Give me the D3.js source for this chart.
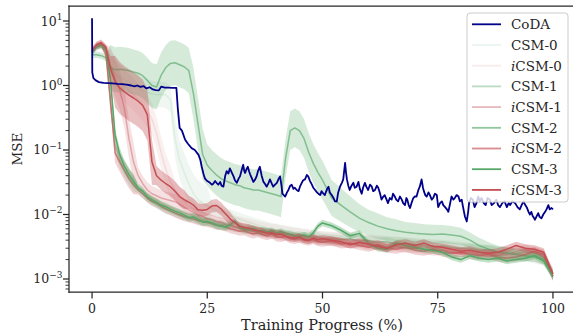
<!DOCTYPE html>
<html>
<head>
<meta charset="utf-8">
<script src="https://d3js.org/d3.v7.min.js"></script>
<style>
  html, body { margin: 0; padding: 0; background: #fff; }
  svg { display: block; }
</style>
</head>
<body>
<svg id="chart" width="573" height="334"></svg>
<script>
// ─── Data ──────────────────────────────────────────────────────────
// training progress grid (%) shared by the CSM / iCSM runs
const progress = [0,1,2,3,4,5,6,7,8,9,
  10,11,12,13,14,15,16,17,18,19,
  20,21,22,23,24,25,26,27,28,29,
  30,31,32,33,34,35,36,37,38,39,
  40,41,42,43,44,45,46,47,48,49,50,
  52,54,56,58,60,62,64,66,68,70,
  72,74,76,78,80,82,84,86,88,90,
  92,94,96,98,100];

const csm0 = [3.2,3.9,4.1,3.8,1.9,1.55,1.35,1.22,1.12,1.02,
  0.92,0.84,0.78,0.74,0.72,0.73,0.71,0.60,0.15,0.07,
  0.045,0.030,0.021,0.017,0.015,0.0135,0.0125,0.0117,0.011,0.0102,
  0.0096,0.0090,0.0085,0.0080,0.0076,0.0072,0.0068,0.0065,0.0062,0.0059,
  0.0057,0.0055,0.0053,0.0052,0.0050,0.0049,0.0047,0.0046,0.0045,0.0044,0.0043,
  0.0042,0.0041,0.0040,0.0039,0.0038,0.0037,0.0036,0.0036,0.0035,0.0034,
  0.0033,0.0033,0.0032,0.0031,0.0030,0.0029,0.0028,0.0027,0.0026,0.0025,
  0.0024,0.0023,0.0022,0.0020,0.0012];
const icsm0 = [3.3,4.0,4.2,3.7,2.0,1.5,1.2,1.0,0.85,0.72,
  0.60,0.50,0.40,0.30,0.18,0.09,0.05,0.032,0.024,0.019,
  0.016,0.014,0.0125,0.0115,0.0108,0.0102,0.0097,0.0092,0.0088,0.0084,
  0.0080,0.0077,0.0074,0.0071,0.0068,0.0066,0.0063,0.0061,0.0059,0.0057,
  0.0056,0.0054,0.0053,0.0051,0.0050,0.0049,0.0048,0.0047,0.0046,0.0045,0.0044,
  0.0043,0.0042,0.0041,0.0040,0.0039,0.0038,0.0037,0.0036,0.0035,0.0034,
  0.0033,0.0032,0.0031,0.0030,0.0029,0.0028,0.0027,0.0026,0.0025,0.0025,
  0.0024,0.0024,0.0023,0.0021,0.0012];
const csm1 = [3.4,4.0,4.2,3.5,0.5,0.12,0.07,0.05,0.038,0.030,
  0.025,0.021,0.018,0.016,0.0145,0.0132,0.0122,0.0113,0.0108,0.0100,
  0.0095,0.0093,0.0087,0.0083,0.0081,0.0077,0.0075,0.0071,0.0070,0.0067,
  0.0066,0.0063,0.0062,0.0059,0.0060,0.0056,0.0055,0.0053,0.0054,0.0051,
  0.0050,0.0051,0.0048,0.0049,0.0046,0.0047,0.0045,0.0046,0.0044,0.0045,0.0043,
  0.0042,0.0041,0.0042,0.0039,0.0040,0.0037,0.0038,0.0035,0.0036,0.0034,
  0.0034,0.0032,0.0033,0.0031,0.0030,0.0030,0.0028,0.0029,0.0027,0.0026,
  0.0025,0.0026,0.0025,0.0022,0.0011];
const icsm1 = [3.5,4.2,4.4,3.9,2.0,1.3,0.85,0.45,0.15,0.065,
  0.040,0.030,0.024,0.021,0.0195,0.018,0.0172,0.0165,0.0158,0.0145,
  0.013,0.0118,0.0107,0.0098,0.0094,0.0086,0.0084,0.0078,0.0076,0.0070,
  0.0068,0.0064,0.0063,0.0059,0.0058,0.0055,0.0054,0.0052,0.0051,0.0049,
  0.0049,0.0047,0.0046,0.0044,0.0045,0.0042,0.0043,0.0041,0.0042,0.0039,0.0040,
  0.0038,0.0037,0.0035,0.0036,0.0033,0.0034,0.0031,0.0032,0.0030,0.0030,
  0.0029,0.0027,0.0028,0.0026,0.0025,0.0026,0.0024,0.0025,0.0023,0.0024,
  0.0027,0.0029,0.0026,0.0022,0.0011];
const csm2 = [3.0,3.0,2.9,2.7,1.9,1.75,1.78,1.75,1.7,1.62,
  1.55,1.42,1.2,1.0,0.95,1.45,1.9,2.2,2.25,2.1,
  1.95,1.7,0.75,0.25,0.085,0.058,0.048,0.041,0.036,0.033,
  0.031,0.029,0.028,0.026,0.025,0.024,0.024,0.023,0.022,0.021,
  0.020,0.019,0.075,0.20,0.22,0.20,0.15,0.092,0.062,0.045,0.034,
  0.018,0.014,0.011,0.0088,0.0075,0.0066,0.0060,0.0056,0.0053,0.0051,
  0.0050,0.0049,0.0050,0.0048,0.0046,0.0040,0.0033,0.0029,0.0026,0.0025,
  0.0024,0.0023,0.0022,0.0020,0.0012];
const icsm2 = [3.4,4.1,4.3,3.0,0.6,0.09,0.065,0.048,0.036,0.029,
  0.024,0.021,0.018,0.016,0.015,0.0135,0.0122,0.0115,0.0105,0.0098,
  0.0092,0.0088,0.0085,0.0080,0.0077,0.0075,0.0072,0.0068,0.0067,0.0064,
  0.0060,0.0058,0.0055,0.0056,0.0052,0.0050,0.0052,0.0049,0.0047,0.0050,
  0.0045,0.0044,0.0046,0.0042,0.0041,0.0043,0.0040,0.0039,0.0041,0.0038,0.0037,
  0.0039,0.0035,0.0036,0.0033,0.0031,0.0034,0.0030,0.0029,0.0031,0.0028,
  0.0027,0.0029,0.0026,0.0025,0.0026,0.0024,0.0023,0.0024,0.0022,0.0021,
  0.0022,0.0024,0.0027,0.0024,0.0011];
const csm3 = [3.3,4.0,4.2,3.6,1.2,0.17,0.085,0.056,0.042,0.033,
  0.026,0.023,0.019,0.017,0.0155,0.014,0.0132,0.0121,0.0113,0.0106,
  0.0098,0.0089,0.0092,0.0084,0.0076,0.0078,0.0074,0.0068,0.0066,0.0064,
  0.0070,0.0079,0.0064,0.0059,0.0058,0.0061,0.0055,0.0057,0.0054,0.0056,
  0.0052,0.0054,0.0051,0.0049,0.0047,0.0046,0.0048,0.0045,0.0052,0.0066,0.0074,
  0.0067,0.0057,0.0047,0.0051,0.0036,0.0030,0.0029,0.0036,0.0033,0.0031,
  0.0029,0.0028,0.0026,0.0022,0.0020,0.0023,0.0021,0.0020,0.0021,0.0019,
  0.0020,0.0021,0.0023,0.0019,0.0011];
const icsm3 = [3.5,4.3,4.6,3.9,1.8,1.15,0.92,0.8,0.71,0.64,
  0.57,0.49,0.35,0.065,0.04,0.034,0.030,0.027,0.023,0.019,
  0.017,0.0155,0.014,0.0118,0.0116,0.012,0.0135,0.0138,0.0122,0.0102,
  0.0085,0.0075,0.0066,0.0063,0.0062,0.0058,0.0056,0.0054,0.0051,0.0052,
  0.0049,0.0050,0.0046,0.0044,0.0043,0.0045,0.0041,0.0040,0.0043,0.0041,0.0042,
  0.0040,0.0038,0.0034,0.0037,0.0035,0.0032,0.0030,0.0034,0.0036,0.0033,
  0.0036,0.0032,0.0031,0.0029,0.0027,0.0028,0.0026,0.0025,0.0026,0.0029,
  0.0033,0.0030,0.0029,0.0026,0.0012];

// half-width of the shaded band, in decades
const bandCsm0 = [.05,.05,.05,.05,.2,.2,.2,.2,.2,.2,
  .2,.2,.2,.2,.2,.2,.2,.2,.3,.3,
  .3,.3,.3,.3,.3,.3,.1,.1,.1,.1,
  .1,.1,.1,.1,.1,.1,.1,.1,.1,.1,
  .1,.1,.1,.1,.1,.1,.1,.1,.1,.1,.1,
  .1,.1,.1,.1,.1,.1,.1,.1,.1,.1,
  .1,.1,.1,.1,.1,.1,.1,.1,.1,.1,
  .1,.1,.1,.1,.1];
const bandIcsm0 = [.05,.05,.05,.05,.25,.25,.25,.25,.25,.25,
  .25,.25,.25,.25,.25,.25,.25,.25,.15,.15,
  .15,.15,.15,.15,.15,.15,.15,.15,.15,.15,
  .15,.1,.1,.1,.1,.1,.1,.1,.1,.1,
  .1,.1,.1,.1,.1,.1,.1,.1,.1,.1,.1,
  .1,.1,.1,.1,.1,.1,.1,.1,.1,.1,
  .1,.1,.1,.1,.1,.1,.1,.1,.1,.1,
  .1,.1,.1,.1,.1];
const bandCsm1 = [.05,.05,.05,.05,.12,.12,.12,.12,.12,.12,
  .07,.07,.07,.07,.07,.07,.07,.07,.07,.07,
  .07,.07,.07,.07,.07,.07,.07,.07,.07,.07,
  .07,.07,.07,.07,.07,.07,.07,.07,.07,.07,
  .07,.07,.07,.07,.07,.07,.07,.07,.07,.07,.07,
  .07,.07,.07,.07,.07,.07,.07,.07,.07,.07,
  .07,.07,.07,.07,.07,.07,.07,.07,.07,.07,
  .07,.07,.07,.07,.07];
const bandIcsm1 = [.05,.05,.05,.05,.3,.3,.3,.3,.3,.3,
  .12,.12,.12,.12,.12,.12,.12,.12,.12,.12,
  .12,.07,.07,.07,.07,.07,.07,.07,.07,.07,
  .07,.07,.07,.07,.07,.07,.07,.07,.07,.07,
  .07,.07,.07,.07,.07,.07,.07,.07,.07,.07,.07,
  .07,.07,.07,.07,.07,.07,.07,.07,.07,.07,
  .07,.07,.07,.07,.07,.07,.07,.07,.07,.07,
  .07,.07,.07,.07,.07];
const bandCsm2 = [.05,.05,.05,.05,.35,.35,.35,.35,.35,.35,
  .35,.35,.35,.35,.35,.35,.35,.35,.35,.35,
  .35,.35,.4,.4,.4,.32,.32,.32,.32,.32,
  .32,.32,.32,.32,.32,.32,.32,.32,.32,.32,
  .32,.32,.3,.3,.3,.3,.3,.3,.3,.3,.3,
  .28,.26,.24,.22,.2,.2,.18,.18,.16,.16,
  .15,.15,.14,.14,.13,.12,.12,.11,.1,.1,
  .08,.08,.08,.08,.06];
const bandIcsm2 = [.05,.05,.05,.05,.15,.15,.15,.15,.15,.15,
  .07,.07,.07,.07,.07,.07,.07,.07,.07,.07,
  .07,.07,.07,.07,.07,.07,.07,.07,.07,.07,
  .07,.07,.07,.07,.07,.07,.07,.07,.07,.07,
  .07,.07,.07,.07,.07,.07,.07,.07,.07,.07,.07,
  .07,.07,.07,.07,.07,.07,.07,.07,.07,.07,
  .07,.07,.07,.07,.07,.07,.07,.07,.07,.07,
  .07,.07,.07,.07,.07];
const bandCsm3 = [.04,.04,.04,.04,.1,.1,.1,.1,.1,.1,
  .06,.06,.06,.06,.06,.06,.06,.06,.06,.06,
  .06,.06,.06,.06,.06,.06,.06,.06,.06,.06,
  .05,.05,.05,.05,.05,.05,.05,.05,.05,.05,
  .05,.05,.05,.05,.05,.05,.05,.05,.05,.05,.05,
  .05,.05,.05,.05,.05,.05,.05,.05,.05,.05,
  .05,.05,.05,.05,.05,.05,.05,.05,.05,.05,
  .05,.05,.05,.05,.05];
const bandIcsm3 = [.05,.05,.05,.05,.2,.4,.4,.4,.4,.4,
  .4,.4,.4,.35,.15,.15,.15,.15,.15,.15,
  .15,.1,.1,.1,.1,.1,.1,.1,.1,.1,
  .1,.06,.06,.06,.06,.06,.06,.06,.06,.06,
  .06,.06,.06,.06,.06,.06,.06,.06,.06,.06,.06,
  .06,.06,.06,.06,.06,.06,.06,.06,.06,.06,
  .06,.06,.06,.06,.06,.06,.06,.06,.06,.06,
  .06,.06,.06,.06,.06];

// CoDA run (single, noisy)
const codaProgress = [0,0.05,0.3,0.8,1.5,2.5,3.5,4.5,5.5,6.5,7.5,8.5,9.2,9.8,10.5,11.2,11.8,12.5,13.2,13.8,
  14.5,15.0,15.8,16.5,17.5,18.3,18.6,19.0,19.5,20.2,20.8,21.6,22.3,23.1,23.5,23.8,24.2,24.5,25.0,25.6,
  26.0,26.3,26.7,27.0,27.4,27.8,28.1,28.5,28.9,29.2,29.6,29.9,30.3,30.7,31.0,31.4,31.8,32.1,32.5,32.8,
  33.0,33.2,33.5,33.8,34.1,34.3,34.7,35.0,35.4,35.7,36.0,36.4,36.8,37.2,37.5,37.9,38.3,38.6,39.0,39.3,
  39.7,40.1,40.5,40.8,41.1,41.3,41.6,41.9,42.3,42.6,43.0,43.3,43.7,44.0,44.4,44.8,45.1,45.5,45.8,46.2,
  46.6,46.9,47.3,47.7,48.0,48.4,48.8,49.1,49.5,49.8,50.2,50.5,50.9,51.3,51.6,52.0,52.4,52.7,53.1,53.4,
  53.8,54.2,54.5,54.9,55.1,55.3,55.6,55.9,56.3,56.7,57.0,57.4,57.8,58.1,58.5,58.8,59.2,59.5,59.9,60.3,
  60.7,61.0,61.4,61.8,62.1,62.5,62.8,63.2,63.5,63.9,64.2,64.6,65.0,65.3,65.7,66.0,66.4,66.8,67.2,67.5,
  67.9,68.2,68.4,68.7,69.0,69.3,69.7,70.0,70.4,70.8,71.1,71.5,71.8,72.0,72.3,72.6,73.0,73.3,73.7,74.0,
  74.4,74.8,75.1,75.5,75.9,76.2,76.6,77.0,77.3,77.7,78.0,78.4,78.7,79.1,79.5,79.8,80.2,80.5,80.9,81.1,
  81.3,81.6,81.8,82.2,82.6,83.0,83.4,83.8,84.1,84.5,85.0,85.4,85.8,86.3,86.7,87.2,87.7,88.1,88.5,89.0,
  89.5,90.0,90.4,90.7,91.2,91.8,92.3,92.8,93.2,93.6,94.0,94.3,94.7,95.0,95.3,95.6,95.9,96.1,96.5,96.8,
  97.1,97.5,97.9,98.3,98.6,99.0,99.3,99.7,100.0];
const codaMse = [11,1.6,1.3,1.2,1.13,1.1,1.09,1.08,1.06,1.05,1.03,1.0,0.97,1.0,0.95,0.98,0.9,0.94,0.87,0.85,
  0.84,0.96,0.93,0.93,0.92,0.92,0.45,0.22,0.2,0.144,0.125,0.107,0.1,0.084,0.07,0.055,0.042,0.036,0.033,0.031,
  0.029,0.03,0.033,0.031,0.029,0.032,0.028,0.027,0.04,0.047,0.043,0.052,0.045,0.039,0.034,0.031,0.036,0.039,0.05,0.059,
  0.048,0.044,0.05,0.055,0.046,0.042,0.036,0.032,0.035,0.039,0.047,0.055,0.04,0.032,0.03,0.027,0.031,0.035,0.03,0.027,
  0.029,0.031,0.036,0.039,0.028,0.021,0.02,0.019,0.022,0.024,0.028,0.029,0.025,0.026,0.024,0.023,0.027,0.031,0.034,0.035,
  0.041,0.039,0.033,0.029,0.026,0.024,0.022,0.021,0.02,0.023,0.021,0.02,0.024,0.027,0.022,0.02,0.018,0.016,0.016,0.022,
  0.027,0.031,0.035,0.063,0.045,0.035,0.028,0.024,0.028,0.031,0.026,0.027,0.032,0.025,0.021,0.026,0.031,0.027,0.024,0.029,
  0.027,0.023,0.024,0.028,0.026,0.021,0.017,0.019,0.02,0.017,0.015,0.018,0.017,0.021,0.019,0.017,0.016,0.019,0.017,0.015,
  0.014,0.018,0.017,0.014,0.0126,0.015,0.018,0.019,0.019,0.024,0.027,0.035,0.026,0.023,0.02,0.019,0.022,0.02,0.017,0.018,
  0.021,0.02,0.013,0.015,0.016,0.014,0.013,0.012,0.011,0.015,0.019,0.017,0.018,0.02,0.019,0.016,0.017,0.013,0.0093,0.0085,
  0.0078,0.011,0.015,0.018,0.017,0.013,0.015,0.019,0.016,0.018,0.015,0.014,0.018,0.017,0.014,0.015,0.017,0.014,0.013,0.015,
  0.016,0.013,0.015,0.014,0.016,0.015,0.013,0.012,0.014,0.016,0.014,0.013,0.011,0.01,0.011,0.0095,0.0088,0.0083,0.0095,0.0105,
  0.0092,0.0087,0.01,0.011,0.012,0.014,0.012,0.0126,0.012];

const xTicks = [0, 25, 50, 75, 100];
const yDecades = [-3, -2, -1, 0, 1];

const GREEN = "#55a868", RED = "#c44e52", NAVY = "#00008b";
const series = [
  { name: "CSM-0", italic: false, values: csm0, band: bandCsm0, color: GREEN, alpha: 0.12 },
  { name: "CSM-0", italic: true,  values: icsm0, band: bandIcsm0, color: RED, alpha: 0.12 },
  { name: "CSM-1", italic: false, values: csm1, band: bandCsm1, color: GREEN, alpha: 0.4 },
  { name: "CSM-1", italic: true,  values: icsm1, band: bandIcsm1, color: RED, alpha: 0.4 },
  { name: "CSM-2", italic: false, values: csm2, band: bandCsm2, color: GREEN, alpha: 0.65 },
  { name: "CSM-2", italic: true,  values: icsm2, band: bandIcsm2, color: RED, alpha: 0.65 },
  { name: "CSM-3", italic: false, values: csm3, band: bandCsm3, color: GREEN, alpha: 1 },
  { name: "CSM-3", italic: true,  values: icsm3, band: bandIcsm3, color: RED, alpha: 1 },
];

// ─── Layout ────────────────────────────────────────────────────────
const W = 573, H = 334;
const plotLeft = 69, plotTop = 6, plotBottom = 292, plotRight = 576;
const FONT = "'DejaVu Serif', serif";
const INK = "#262626";

const svg = d3.select("#chart");
svg.append("rect").attr("width", W).attr("height", H).attr("fill", "#fff");

const x = d3.scaleLinear().domain([-5, 105]).range([plotLeft, plotRight]);
const y = d3.scaleLog().domain([Math.pow(10, -3.2016), Math.pow(10, 1.2326)]).range([plotBottom, plotTop]);

svg.append("defs").append("clipPath").attr("id", "plotClip")
  .append("rect").attr("x", plotLeft).attr("y", plotTop)
  .attr("width", plotRight - plotLeft).attr("height", plotBottom - plotTop);

const plot = svg.append("g").attr("clip-path", "url(#plotClip)");

// ─── Series: band + mean line ──────────────────────────────────────
for (const s of series) {
  const pts = progress.map((t, i) => ({ t, v: s.values[i], b: s.band[i] }));
  const area = d3.area()
    .x(d => x(d.t))
    .y0(d => y(d.v * Math.pow(10, -d.b)))
    .y1(d => y(d.v * Math.pow(10, d.b)));
  const line = d3.line().x(d => x(d.t)).y(d => y(d.v));

  plot.append("path").datum(pts)
    .attr("d", area)
    .attr("fill", s.color)
    .attr("fill-opacity", 0.3 * s.alpha + 0.05)
    .attr("stroke", "none");
  plot.append("path").datum(pts)
    .attr("d", line)
    .attr("fill", "none")
    .attr("stroke", s.color)
    .attr("stroke-opacity", s.alpha)
    .attr("stroke-width", 1.5)
    .attr("stroke-linejoin", "round");
}

// CoDA on top
const codaPts = codaProgress.map((t, i) => ({ t, v: codaMse[i] }));
plot.append("path").datum(codaPts)
  .attr("d", d3.line().x(d => x(d.t)).y(d => y(d.v)))
  .attr("fill", "none")
  .attr("stroke", NAVY)
  .attr("stroke-width", 1.8)
  .attr("stroke-linejoin", "round");

// ─── Axes ──────────────────────────────────────────────────────────
const axes = svg.append("g");
axes.append("line").attr("x1", plotLeft).attr("x2", plotLeft).attr("y1", plotTop).attr("y2", plotBottom)
  .attr("stroke", INK).attr("stroke-width", 1.25).attr("stroke-linecap", "square");
axes.append("line").attr("x1", plotLeft).attr("x2", W).attr("y1", plotBottom).attr("y2", plotBottom)
  .attr("stroke", INK).attr("stroke-width", 1.25).attr("stroke-linecap", "square");
axes.append("line").attr("x1", plotLeft).attr("x2", W).attr("y1", plotTop).attr("y2", plotTop)
  .attr("stroke", INK).attr("stroke-width", 1.25).attr("stroke-linecap", "square");

// x ticks
for (const t of xTicks) {
  axes.append("line").attr("x1", x(t)).attr("x2", x(t)).attr("y1", plotBottom).attr("y2", plotBottom + 6.5)
    .attr("stroke", INK).attr("stroke-width", 1.25);
  axes.append("text").attr("x", x(t)).attr("y", plotBottom + 21)
    .attr("text-anchor", "middle").attr("font-family", FONT).attr("font-size", 12.5)
    .attr("fill", INK).text(t);
}

// y ticks (log): major + minor
const [yLo, yHi] = y.domain();
for (let e = -4; e <= 1; e++) {
  for (let k = 2; k <= 9; k++) {
    const v = k * Math.pow(10, e);
    if (v < yLo || v > yHi) continue;
    axes.append("line").attr("x1", plotLeft - 3.5).attr("x2", plotLeft).attr("y1", y(v)).attr("y2", y(v))
      .attr("stroke", INK).attr("stroke-width", 0.9);
  }
}
for (const e of yDecades) {
  const v = Math.pow(10, e);
  axes.append("line").attr("x1", plotLeft - 6).attr("x2", plotLeft).attr("y1", y(v)).attr("y2", y(v))
    .attr("stroke", INK).attr("stroke-width", 1.25);
  const label = axes.append("text").attr("x", plotLeft - 6.5).attr("y", y(v) + 4.5)
    .attr("text-anchor", "end").attr("font-family", FONT).attr("font-size", 12.5).attr("fill", INK);
  label.append("tspan").text("10");
  label.append("tspan").attr("dy", -5.5).attr("font-size", 9).text(String(e).replace("-", "\u2212"));
}

// axis titles
svg.append("text").attr("x", (plotLeft + W) / 2 + 1).attr("y", 330)
  .attr("text-anchor", "middle").attr("font-family", FONT).attr("font-size", 14.5)
  .attr("fill", INK).text("Training Progress (%)");
svg.append("text").attr("transform", `translate(22,${(plotTop + plotBottom) / 2}) rotate(-90)`)
  .attr("text-anchor", "middle").attr("font-family", FONT).attr("font-size", 13.5)
  .attr("fill", INK).text("MSE");

// ─── Legend ────────────────────────────────────────────────────────
const legendItems = [{ name: "CoDA", italic: false, color: NAVY, alpha: 1 }].concat(series);
const lg = svg.append("g");
lg.append("rect").attr("x", 467).attr("y", 13).attr("width", 101).attr("height", 189)
  .attr("rx", 3).attr("fill", "#fff").attr("fill-opacity", 0.8)
  .attr("stroke", "#cccccc").attr("stroke-width", 1);
legendItems.forEach((d, i) => {
  const cy = 24.3 + i * 20.7;
  lg.append("line").attr("x1", 472).attr("x2", 501).attr("y1", cy).attr("y2", cy)
    .attr("stroke", d.color).attr("stroke-opacity", d.alpha).attr("stroke-width", 1.8);
  const txt = lg.append("text").attr("x", 511).attr("y", cy + 4.8)
    .attr("font-family", FONT).attr("font-size", 13.5).attr("fill", INK);
  if (d.italic) txt.append("tspan").attr("font-style", "italic").text("i");
  txt.append("tspan").text(d.name);
});
</script>
</body>
</html>
